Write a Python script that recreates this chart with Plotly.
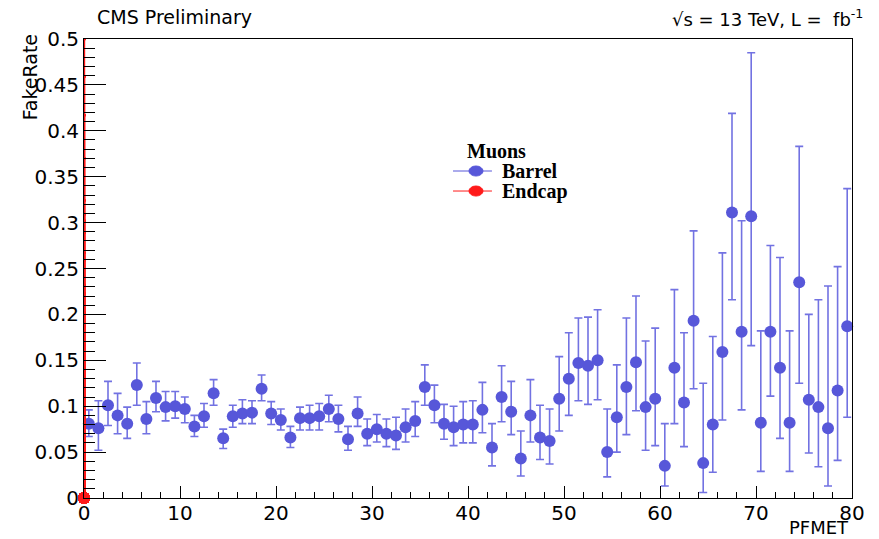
import numpy as np
import plotly.graph_objects as go

# ---------------- data ----------------
bin_low_edges = list(range(80))          # PFMET bins of width 1 (0..80)
bin_width = 1.0

barrel_rate = [0.081, 0.076, 0.101, 0.090, 0.081, 0.123, 0.086, 0.109, 0.099, 0.100,
               0.097, 0.078, 0.089, 0.114, 0.065, 0.089, 0.092, 0.093, 0.119, 0.092,
               0.085, 0.066, 0.087, 0.087, 0.089, 0.097, 0.086, 0.064, 0.092, 0.070,
               0.075, 0.070, 0.068, 0.077, 0.084, 0.121, 0.101, 0.081, 0.077, 0.080,
               0.080, 0.096, 0.055, 0.110, 0.094, 0.043, 0.090, 0.066, 0.062, 0.108,
               0.130, 0.147, 0.144, 0.150, 0.050, 0.088, 0.121, 0.148, 0.099, 0.108,
               0.035, 0.142, 0.104, 0.193, 0.038, 0.080, 0.159, 0.311, 0.181, 0.307,
               0.082, 0.181, 0.142, 0.082, 0.235, 0.107, 0.099, 0.076, 0.117, 0.187]
barrel_upper = [0.096, 0.106, 0.127, 0.114, 0.099, 0.147, 0.105, 0.127, 0.116, 0.116,
                0.110, 0.090, 0.103, 0.129, 0.075, 0.101, 0.107, 0.106, 0.134, 0.105,
                0.097, 0.078, 0.099, 0.101, 0.103, 0.112, 0.101, 0.078, 0.110, 0.086,
                0.091, 0.086, 0.088, 0.097, 0.105, 0.145, 0.123, 0.102, 0.100, 0.105,
                0.106, 0.126, 0.081, 0.144, 0.127, 0.073, 0.129, 0.101, 0.097, 0.154,
                0.180, 0.196, 0.197, 0.205, 0.097, 0.145, 0.196, 0.220, 0.171, 0.185,
                0.081, 0.227, 0.180, 0.291, 0.125, 0.176, 0.267, 0.419, 0.302, 0.485,
                0.182, 0.275, 0.262, 0.182, 0.383, 0.200, 0.216, 0.231, 0.252, 0.337]
barrel_lower = [0.067, 0.052, 0.079, 0.070, 0.065, 0.101, 0.070, 0.094, 0.084, 0.087,
                0.082, 0.067, 0.077, 0.101, 0.054, 0.077, 0.081, 0.081, 0.106, 0.080,
                0.074, 0.055, 0.074, 0.074, 0.074, 0.083, 0.072, 0.052, 0.078, 0.057,
                0.061, 0.056, 0.053, 0.061, 0.067, 0.101, 0.082, 0.064, 0.057, 0.060,
                0.060, 0.071, 0.035, 0.083, 0.069, 0.024, 0.061, 0.042, 0.037, 0.073,
                0.090, 0.106, 0.102, 0.107, 0.023, 0.050, 0.069, 0.095, 0.052, 0.057,
                0.013, 0.081, 0.056, 0.119, 0.006, 0.028, 0.085, 0.216, 0.096, 0.166,
                0.029, 0.111, 0.065, 0.029, 0.125, 0.049, 0.034, 0.013, 0.041, 0.088]

# Endcap: all entries sit at PFMET = 0 with rate 0 and (large) upper errors
endcap_pfmet = [0.0] * 26
endcap_rate = [0.0] * 26
endcap_upper = [0.009, 0.020, 0.031, 0.041, 0.067, 0.078, 0.089, 0.099, 0.110, 0.129,
                0.139, 0.167, 0.187, 0.202, 0.223, 0.232, 0.259, 0.267, 0.289, 0.302,
                0.309, 0.324, 0.370, 0.417, 0.459, 0.500]

y_tickvals = [0, 0.05, 0.1, 0.15, 0.2, 0.25, 0.3, 0.35, 0.4, 0.45, 0.5]
y_ticktext = ["0", "0.05", "0.1", "0.15", "0.2", "0.25", "0.3", "0.35", "0.4", "0.45", "0.5"]
x_tickvals = [0, 10, 20, 30, 40, 50, 60, 70, 80]

legend_title = "Muons"
legend_names = ["Barrel", "Endcap"]

# ---------------- figure ----------------
blue = "#5757d9"
blue_err = "#7272e2"
red = "#ff1a1a"
font_fam = "DejaVu Sans"
legend_colors = [blue, red]

x_centers = np.array(bin_low_edges) + bin_width / 2
rate = np.array(barrel_rate)
err_up = np.array(barrel_upper) - rate
err_dn = rate - np.array(barrel_lower)

fig = go.Figure()

fig.add_trace(go.Scatter(
    x=x_centers, y=rate, mode="markers", name=legend_names[0], showlegend=False,
    marker=dict(color=blue, size=12),
    error_y=dict(type="data", symmetric=False, array=err_up, arrayminus=err_dn,
                 color=blue_err, thickness=1.6, width=4),
    cliponaxis=False,
))

fig.add_trace(go.Scatter(
    x=endcap_pfmet, y=endcap_rate, mode="markers", name=legend_names[1], showlegend=False,
    marker=dict(color=red, size=12),
    error_y=dict(type="data", symmetric=False, array=endcap_upper,
                 arrayminus=[0.0] * len(endcap_upper),
                 color=red, thickness=2.4, width=2),
    cliponaxis=False,
))

fig.update_layout(
    width=879, height=539,
    margin=dict(l=84, r=27, t=39, b=41),
    paper_bgcolor="white", plot_bgcolor="white",
    font=dict(family=font_fam, color="black"),
    showlegend=False,
)

fig.update_xaxes(
    range=[0, 80], showgrid=False, zeroline=False,
    showline=True, linecolor="black", linewidth=1, mirror=True,
    ticks="inside", ticklen=12, tickcolor="black", tickwidth=1,
    tickvals=x_tickvals, ticklabelstandoff=-3,
    minor=dict(dtick=2, ticks="inside", ticklen=6, tickcolor="black", showgrid=False),
    tickfont=dict(family=font_fam, size=20),
)
fig.update_yaxes(
    range=[0, 0.5], showgrid=False, zeroline=False,
    showline=True, linecolor="black", linewidth=1, mirror=True,
    ticks="inside", ticklen=22, tickcolor="black", tickwidth=1,
    tickvals=y_tickvals, ticktext=y_ticktext,
    minor=dict(dtick=0.01, ticks="inside", ticklen=11, tickcolor="black", showgrid=False),
    tickfont=dict(family=font_fam, size=20),
)

# ---- legend box (ROOT TLegend style, drawn in paper coordinates) ----
leg_x_line0, leg_x_line1, leg_x_mark, leg_x_text = 0.4805, 0.5312, 0.5104, 0.5417
leg_y_title = 0.756
leg_y_rows = [0.7124, 0.6688]
fig.add_annotation(text="<b>%s</b>" % legend_title, xref="paper", yref="paper",
                   x=0.496, y=leg_y_title, xanchor="left", yanchor="middle", showarrow=False,
                   font=dict(family="Liberation Serif", size=20))
for name, col, yy in zip(legend_names, legend_colors, leg_y_rows):
    fig.add_shape(type="line", xref="paper", yref="paper",
                  x0=leg_x_line0, x1=leg_x_line1, y0=yy, y1=yy,
                  line=dict(color=col, width=1))
    fig.add_shape(type="circle", xref="paper", yref="paper",
                  xsizemode="pixel", ysizemode="pixel",
                  xanchor=leg_x_mark, yanchor=yy, x0=-7, x1=7, y0=-5, y1=5,
                  fillcolor=col, line=dict(color=col, width=1))
    fig.add_annotation(text="<b>%s</b>" % name, xref="paper", yref="paper",
                       x=leg_x_text, y=yy, xanchor="left", yanchor="middle", showarrow=False,
                       font=dict(family="Liberation Serif", size=20))

fig.add_annotation(text="CMS Preliminary", xref="paper", yref="paper",
                   x=0.014, y=1.048, xanchor="left", yanchor="middle", showarrow=False,
                   font=dict(family=font_fam, size=19))
fig.add_annotation(text="√s = 13 TeV, L =  fb<sup>-1</sup>", xref="paper", yref="paper",
                   x=1.017, y=1.045, xanchor="right", yanchor="middle", showarrow=False,
                   font=dict(family=font_fam, size=18))
fig.add_annotation(text="PFMET", xref="paper", yref="paper",
                   x=0.997, y=-0.0893, xanchor="right", yanchor="bottom", showarrow=False,
                   borderpad=0, font=dict(family=font_fam, size=18))
fig.add_annotation(text="FakeRate", xref="paper", yref="paper", textangle=-90,
                   x=-0.07, y=1.015, xanchor="center", yanchor="top", showarrow=False,
                   font=dict(family=font_fam, size=19))

fig.write_html("out.html")
